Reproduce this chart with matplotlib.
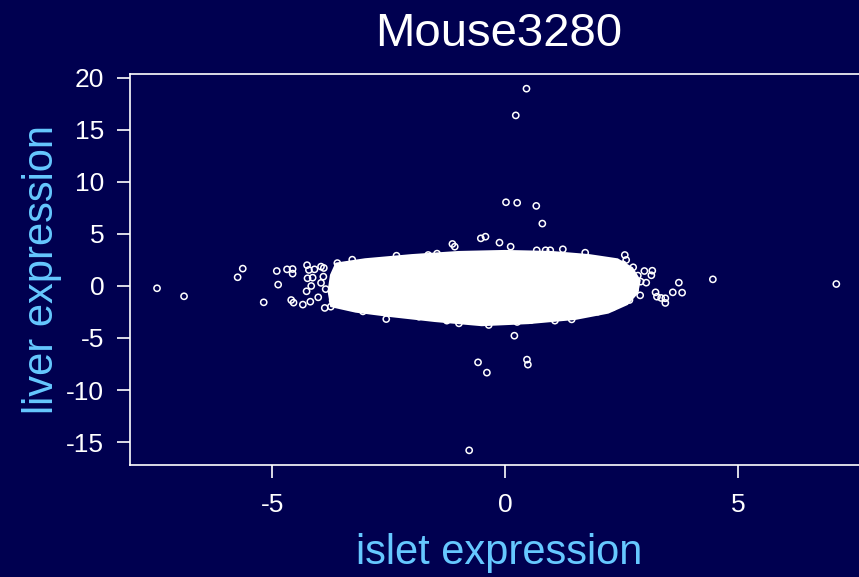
import numpy as np
import matplotlib.pyplot as plt

plt.rcParams['font.family'] = ['Liberation Sans', 'DejaVu Sans']
plt.rcParams['axes.unicode_minus'] = False

# outlying genes (islet, liver)
out_x = [0.46, 0.23, 0.02, 0.26, 0.67, 0.80, -7.47, -6.89, -5.74, -5.63, -5.18, 7.11,
         4.46, 0.20, -0.58, -0.39, 0.47, 0.49, -0.77]
out_y = [18.97, 16.4, 8.05, 8.0, 7.7, 6.0, -0.22, -0.99, 0.84, 1.67, -1.57, 0.19,
         0.64, -4.78, -7.34, -8.33, -7.08, -7.56, -15.8]

# genes on the ragged edge of the main cloud
edge_x = [-4.90, -4.68, -4.56, -4.56, -4.87, -4.59, -4.54, -4.34, -4.18, -4.26, -4.16,
          -4.24, -4.13, -4.25, -4.21, -4.09, -3.95, -3.89, -4.01, -3.87, -3.74, -3.28,
          -2.33, -3.05, -2.55, -3.9, -3.85, -3.95, -3.6, -3.7,
          2.57, 2.60, 2.53, 2.99, 3.16, 3.14, 2.91, 3.03, 3.73, 3.80, 3.60, 3.23, 3.26,
          3.35, 3.44, 3.44, 2.79, 2.67, 2.41, 2.31, 1.99, 1.43, 2.85, 2.9, 2.75,
          -1.13, -1.08, -0.52, -0.42, -0.12, 0.12, 1.24, 1.72, 0.68, 0.87, 0.97, -1.46,
          -1.65,
          -1.25, -0.99, -0.35, 0.26, 0.56, 1.07, -1.85, -2.85]
edge_y = [1.44, 1.60, 1.63, 1.19, 0.13, -1.35, -1.60, -1.79, -1.51, -0.51, 0.0,
          0.74, 0.80, 2.0, 1.54, 1.60, 1.86, 1.73, -1.09, -2.11, -1.99, 2.53,
          2.91, -2.44, -3.18, 0.9, -0.3, 0.3, 2.2, -1.4,
          2.98, 2.50, 2.08, 1.44, 1.47, 1.03, 0.42, 0.32, 0.32, -0.64, -0.61, -0.61, -1.03,
          -1.15, -1.18, -1.63, -0.38, -1.35, -1.67, -2.05, -2.47, -3.21, 1.0, -0.9, 1.8,
          4.04, 3.78, 4.58, 4.74, 4.17, 3.78, 3.53, 3.20, 3.43, 3.43, 3.43, 3.11,
          2.98,
          -3.33, -3.59, -3.75, -3.46, -3.27, -3.33, -2.95, -2.31]

# outline of the saturated core of the cloud
core_x = [-3.7, -3.75, -3.7, -3.6, -3.0, -2.0, -1.0, 0.0, 1.0, 1.8, 2.4, 2.7, 2.85,
          2.8, 2.6, 2.2, 1.5, 0.5, -0.5, -1.5, -2.5, -3.2]
core_y = [-1.8, -0.5, 1.0, 2.0, 2.4, 2.8, 3.1, 3.2, 3.1, 2.8, 2.4, 1.6, 0.5,
          -0.6, -1.6, -2.4, -3.0, -3.4, -3.6, -3.2, -2.7, -2.3]

bg = '#000050'
lab = '#66C8FF'

fig = plt.figure(figsize=(8.59, 5.77), dpi=100)
fig.patch.set_facecolor(bg)
ax = fig.add_axes([130 / 859, (577 - 465) / 577, (868 - 130) / 859, (465 - 74) / 577])
ax.set_facecolor(bg)

ax.fill(core_x, core_y, color='white', lw=4, ec='white', zorder=2)
ax.scatter(edge_x, edge_y, s=20, facecolors='none', edgecolors='white', linewidths=1.1, zorder=3)
ax.scatter(out_x, out_y, s=20, facecolors='none', edgecolors='white', linewidths=1.1, zorder=3)

ax.set_xlim(-8.05, 7.79)
ax.set_ylim(-17.21, 20.38)
ax.set_xticks([-5, 0, 5])
ax.set_yticks([-15, -10, -5, 0, 5, 10, 15, 20])
for s in ax.spines.values():
    s.set_color('white')
    s.set_linewidth(1.2)
ax.tick_params(colors='white', labelsize=19, length=9.5, width=1.2)
ax.tick_params(axis='x', pad=11)
ax.tick_params(axis='y', pad=9)

ax.set_title('Mouse3280', color='white', fontsize=34, pad=20)
ax.set_xlabel('islet expression', color=lab, fontsize=30, labelpad=11)
ax.set_ylabel('liver expression', color=lab, fontsize=30, labelpad=3)

fig.savefig('out.png', dpi=100, facecolor=bg)
